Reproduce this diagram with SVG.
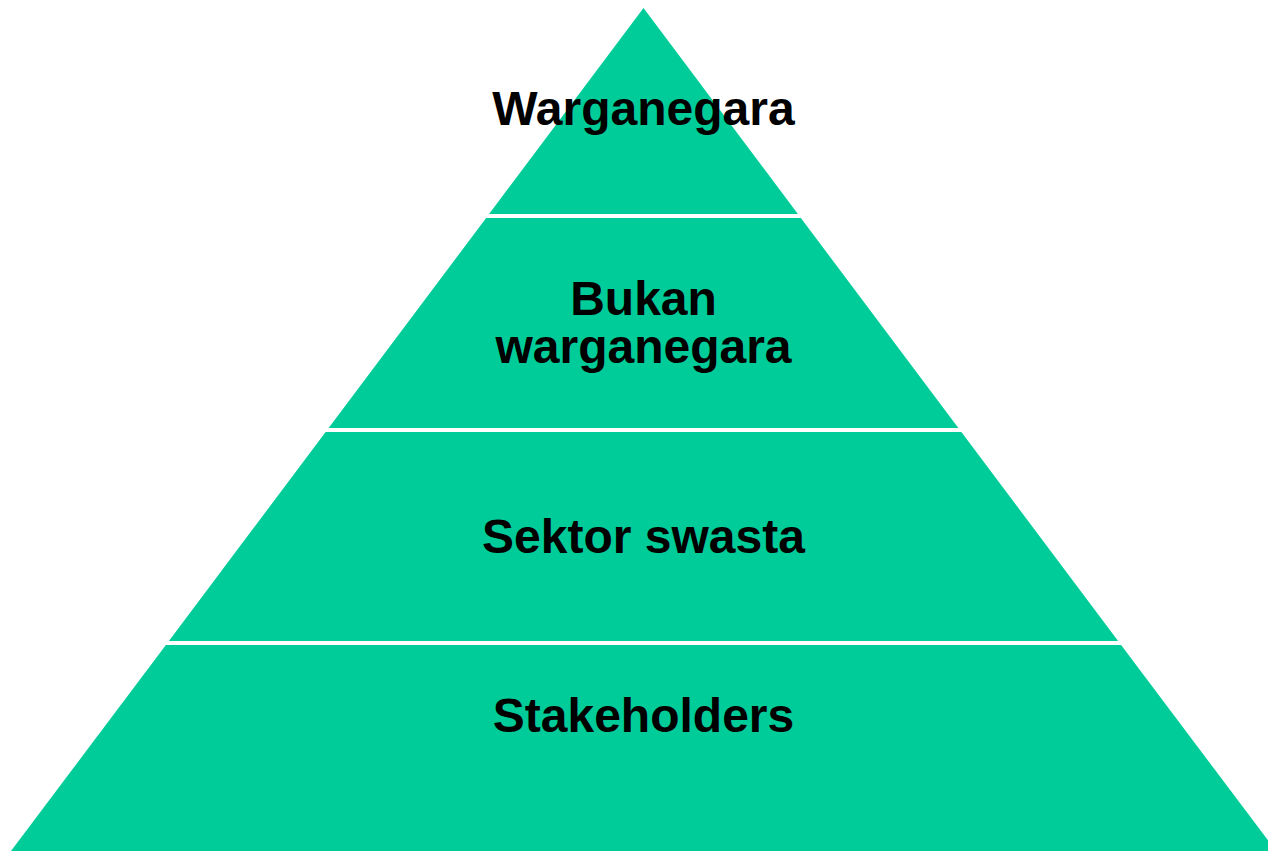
<svg xmlns="http://www.w3.org/2000/svg" width="1268" height="851" viewBox="0 0 1268 851">
<style>
.layer{fill:#00CC99}
.lbl{font-family:"Liberation Sans",Arial,sans-serif;font-weight:bold;font-size:48px;fill:#000;text-anchor:middle}
</style>
<rect width="1268" height="851" fill="#fff"/>
<g id="warganegara">
<polygon class="layer" points="643.5,8 797.9,214 489.1,214"/>
<text class="lbl" x="643.5" y="125">Warganegara</text>
</g>
<g id="bukan-warganegara">
<polygon class="layer" points="486.1,218 800.9,218 958.4,428 328.6,428"/>
<text class="lbl" x="643.5" y="315">Bukan</text>
<text class="lbl" x="643.5" y="363">warganegara</text>
</g>
<g id="sektor-swasta">
<polygon class="layer" points="325.6,432 961.4,432 1118.1,641 168.9,641"/>
<text class="lbl" x="643.5" y="553">Sektor swasta</text>
</g>
<g id="stakeholders">
<polygon class="layer" points="165.9,645 1121.1,645 1276,851 11,851"/>
<text class="lbl" x="643.5" y="732">Stakeholders</text>
</g>
<g id="connectors"/>
</svg>
